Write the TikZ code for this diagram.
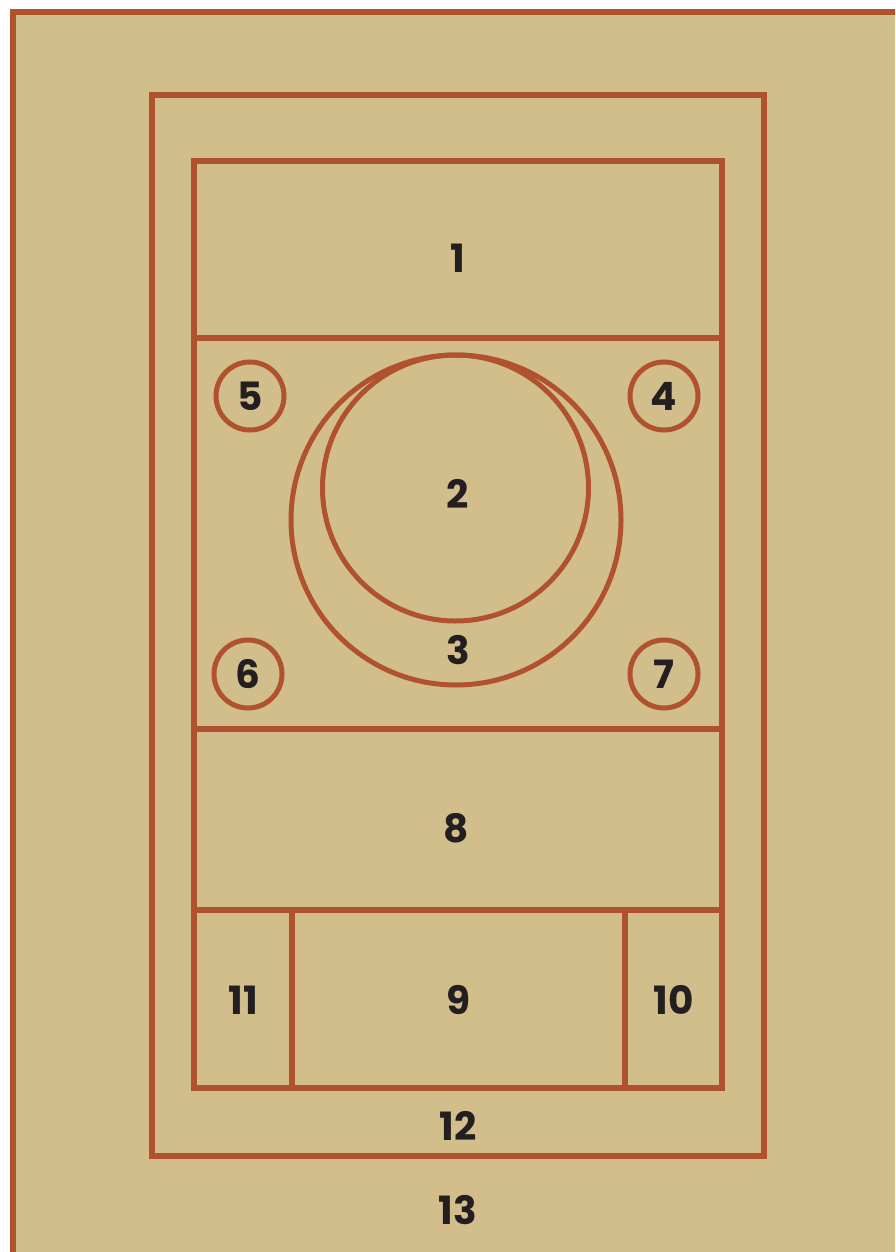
\documentclass[tikz,border=0pt]{standalone}
\usepackage{fontspec}
\setmainfont{Poppins}
\definecolor{sand}{HTML}{D1BE8A}
\definecolor{rust}{HTML}{B0522D}
\definecolor{ink}{HTML}{231F20}

\begin{document}
\begin{tikzpicture}[x=1pt,y=-1pt,
    wall/.style={draw=rust,line width=5.8pt},
    num/.style={text=ink,font=\fontsize{39}{40}\selectfont\bfseries,inner sep=0pt},
    spot/.style={circle,draw=rust,line width=5pt,minimum size=68pt,inner sep=0pt,text=ink,font=\fontsize{39}{40}\selectfont\bfseries}]
    \useasboundingbox (0,0) rectangle (895,1252);
    \fill[sand] (10,9) rectangle (895,1252);
    \draw[wall] (13,1252) -- (13,12) -- (895,12);
    \draw[wall] (152,95) rectangle (764,1156);
    \draw[wall] (194,161) rectangle (722,1088);
    \draw[wall] (194,338) -- (722,338);
    \draw[wall] (194,729) -- (722,729);
    \draw[wall] (194,910) -- (722,910);
    \draw[wall] (292,910) -- (292,1088);
    \draw[wall] (625,910) -- (625,1088);
    \draw[wall,line width=5pt] (456,520) circle (165);
    \draw[wall,line width=5pt] (455.5,488) circle (133);
    \node[spot] (s4) at (664,396) {4};
    \node[spot] (s5) at (250,396) {5};
    \node[spot] (s6) at (248,674) {6};
    \node[spot] (s7) at (664,674) {7};
    \node[num] (n1) at (458,258) {1};
    \node[num] (n2) at (458,494) {2};
    \node[num] (n3) at (458,650) {3};
    \node[num] (n8) at (456,828) {8};
    \node[num] (n11) at (243,1000) {11};
    \node[num] (n9) at (458,1000) {9};
    \node[num] (n10) at (674,1000) {10};
    \node[num] (n12) at (458,1126) {12};
    \node[num] (n13) at (458,1210) {13};
\end{tikzpicture}
\end{document}
